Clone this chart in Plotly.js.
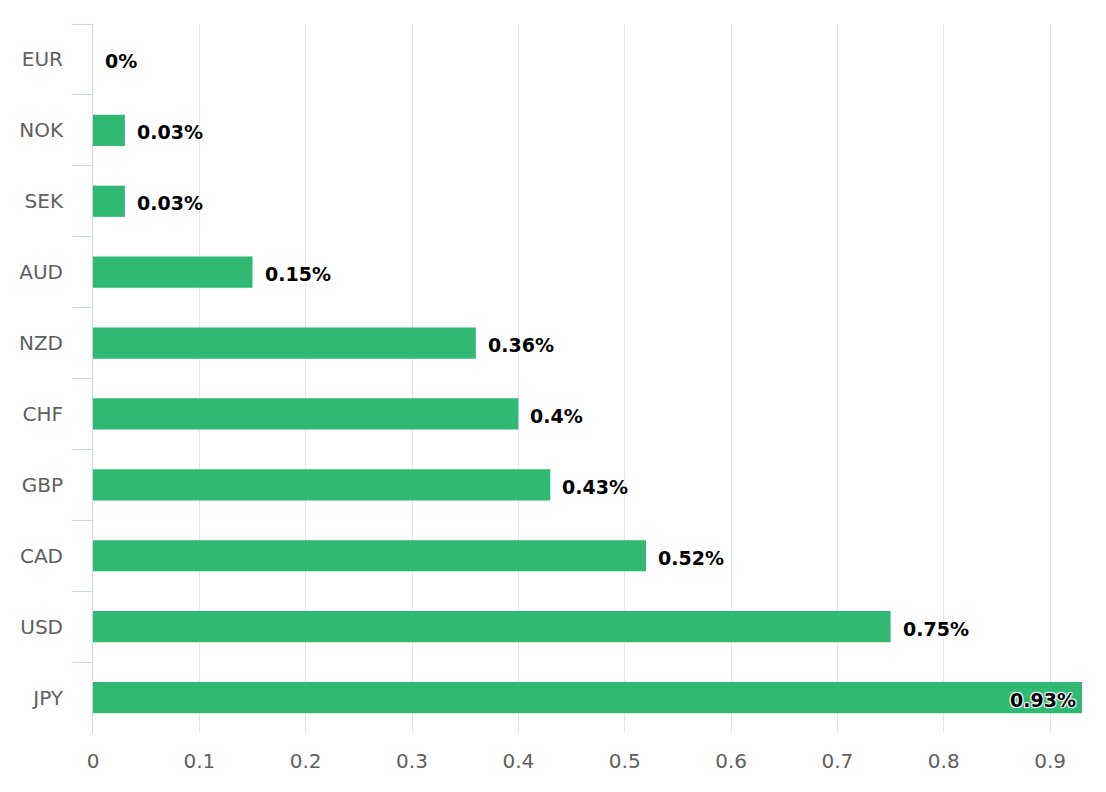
<!DOCTYPE html>
<html>
<head>
<meta charset="utf-8">
<script src="https://cdn.plot.ly/plotly-3.0.1.min.js"></script>
<style>html,body{margin:0;padding:0;background:#fff;}#chart{width:1106px;height:792px;}</style>
</head>
<body>
<div id="chart"></div>
<script>
var currencies = ['EUR','NOK','SEK','AUD','NZD','CHF','GBP','CAD','USD','JPY'];
var changes = [0, 0.03, 0.03, 0.15, 0.36, 0.4, 0.43, 0.52, 0.75, 0.93];
var xTicks = [0, 0.1, 0.2, 0.3, 0.4, 0.5, 0.6, 0.7, 0.8, 0.9];

var labelFont = {family: 'DejaVu Sans', size: 19, color: '#000', weight: 'bold',
  shadow: '1px 1px 1px #fff, -1px -1px 1px #fff, 1px -1px 1px #fff, -1px 1px 1px #fff'};

var maxVal = Math.max.apply(null, changes);
var annotations = currencies.map(function(c, i) {
  var inside = changes[i] === maxVal;
  return {
    x: changes[i], y: c, xref: 'x', yref: 'y',
    text: '<b>' + changes[i] + '%</b>',
    showarrow: false,
    xanchor: inside ? 'right' : 'left',
    xshift: inside ? -4 : 10,
    yshift: -2,
    font: labelFont
  };
});

var trace = {
  type: 'bar', orientation: 'h',
  x: changes, y: currencies,
  marker: {color: '#2fb972'},
  hoverinfo: 'x+y'
};

var layout = {
  width: 1106, height: 792,
  margin: {l: 93, r: 24, t: 24, b: 59},
  paper_bgcolor: '#fff', plot_bgcolor: '#fff',
  bargap: 0.56,
  showlegend: false,
  font: {family: 'DejaVu Sans', size: 20, color: '#606060'},
  xaxis: {
    range: [0, 0.93], tickvals: xTicks, ticktext: xTicks.map(String),
    showgrid: true, gridcolor: '#e6e6e6', gridwidth: 1,
    zeroline: false, showline: false, ticks: '',
    ticklabelstandoff: 14,
    tickfont: {family: 'DejaVu Sans', size: 20, color: '#606060'}
  },
  yaxis: {
    type: 'category', categoryorder: 'array', categoryarray: currencies,
    autorange: 'reversed',
    showline: true, linecolor: '#ccd6eb', linewidth: 1,
    ticks: 'outside', tickson: 'boundaries', ticklen: 20, tickcolor: '#ccd6eb', tickwidth: 1,
    showgrid: false, zeroline: false,
    ticklabelstandoff: 25,
    tickfont: {family: 'DejaVu Sans', size: 20, color: '#606060'}
  },
  annotations: annotations
};

Plotly.newPlot('chart', [trace], layout, {displayModeBar: false, staticPlot: true});
</script>
</body>
</html>
